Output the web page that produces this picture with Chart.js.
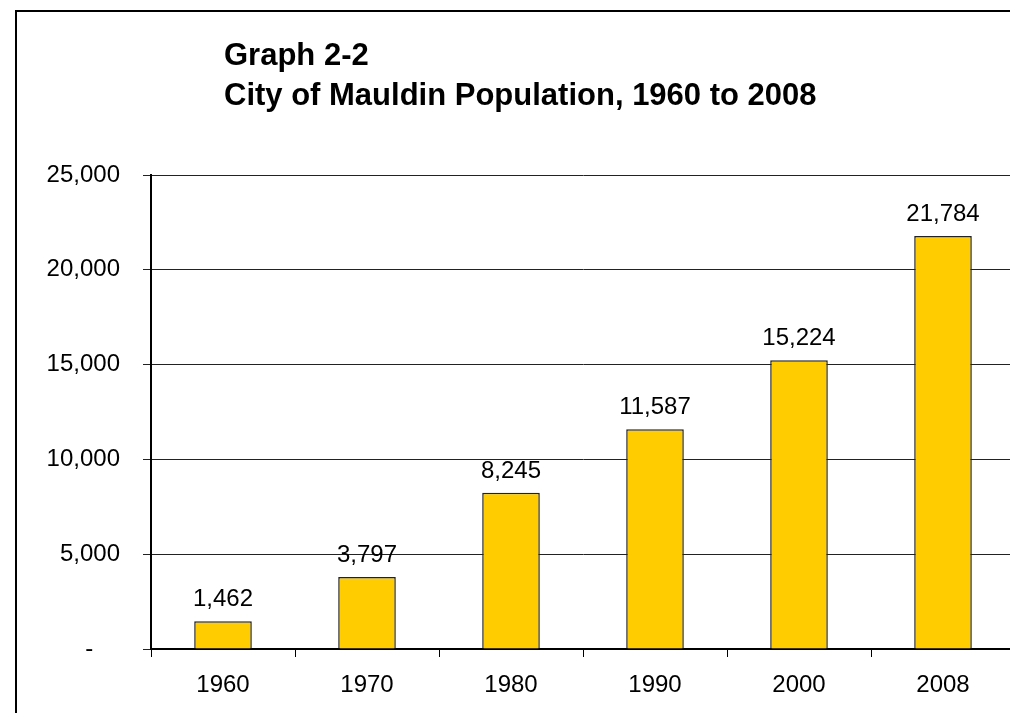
<!DOCTYPE html>
<html lang="en">
<head>
  <meta charset="UTF-8" />
  <title>City of Mauldin Population, 1960 to 2008</title>
  <script src="https://cdn.jsdelivr.net/npm/chart.js"></script>
  <style>
    body { margin: 0; background: #fff; }
    #wrap { position: relative; width: 1010px; height: 713px; overflow: hidden; }
    #frame { position: absolute; left: 15px; top: 10px; width: 1200px; height: 900px; border: 2px solid #000; }
    #chart { position: absolute; left: 0; top: 0; }
  </style>
</head>
<body>
  <div id="wrap">
    <div id="frame"></div>
    <canvas id="chart" width="1030" height="713"></canvas>
  </div>
  <script>
    const years = ["1960", "1970", "1980", "1990", "2000", "2008"];
    const population = [1462, 3797, 8245, 11587, 15224, 21784];
    const titleLines = ["Graph 2-2", "City of Mauldin Population, 1960 to 2008"];
    const yMax = 25000;
    const yStep = 5000;

    const FONT = "'Liberation Sans', Arial, sans-serif";

    // title + value labels, Excel style
    const textPlugin = {
      id: "textPlugin",
      afterDatasetsDraw(chart) {
        const ctx = chart.ctx;
        ctx.save();
        ctx.fillStyle = "#000";
        ctx.font = "24px " + FONT;
        ctx.textAlign = "center";
        ctx.textBaseline = "alphabetic";
        chart.getDatasetMeta(0).data.forEach((bar, i) => {
          ctx.fillText(population[i].toLocaleString("en-US"), bar.x, bar.y - 15);
        });
        ctx.font = "bold 31px " + FONT;
        ctx.textAlign = "left";
        ctx.fillText(titleLines[0], 224, 65);
        ctx.fillText(titleLines[1], 224, 105);
        ctx.restore();
      }
    };

    new Chart(document.getElementById("chart"), {
      type: "bar",
      data: {
        labels: years,
        datasets: [{
          data: population,
          backgroundColor: "#FFCC00",
          borderColor: "#222",
          borderWidth: 1.5,
          categoryPercentage: 1,
          barPercentage: 0.4
        }]
      },
      options: {
        responsive: false,
        animation: false,
        devicePixelRatio: 1,
        layout: { padding: { top: 175, right: 15, left: 0, bottom: 0 } },
        plugins: { legend: { display: false }, tooltip: { enabled: false } },
        scales: {
          x: {
            grid: { drawOnChartArea: false, color: "#000", tickLength: 8, lineWidth: 1 },
            border: { color: "#000", width: 2 },
            ticks: { color: "#000", font: { family: FONT, size: 24 }, padding: 14, maxRotation: 0 },
            afterFit(scale) { scale.height = 64; }
          },
          y: {
            min: 0,
            max: yMax,
            grid: { color: "#222", tickLength: 8, lineWidth: 1 },
            border: { color: "#000", width: 2 },
            ticks: {
              stepSize: yStep,
              color: "#000",
              font: { family: FONT, size: 24 },
              padding: 23,
              callback: v => v === 0 ? "-\u2007\u2007" : v.toLocaleString("en-US")
            },
            afterFit(scale) { scale.width = 151; }
          }
        }
      },
      plugins: [textPlugin]
    });
  </script>
</body>
</html>
